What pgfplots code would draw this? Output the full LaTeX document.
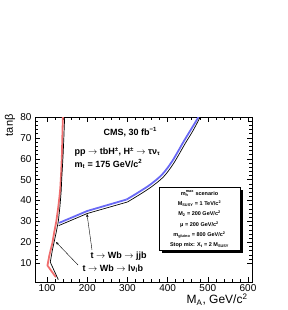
\documentclass[border=0pt]{standalone}
\usepackage{pgfplots}
\pgfplotsset{compat=1.18}
\usetikzlibrary{arrows.meta}
\usepackage{fontspec}
\setmainfont{Liberation Sans}
\begin{document}
\begin{tikzpicture}[x=1pt,y=1pt]
\useasboundingbox (0,0) rectangle (287,310);
\begin{axis}[
  at={(35pt,28pt)}, anchor=south west,
  scale only axis, width=217pt, height=165pt,
  xmin=70, xmax=610, ymin=1, ymax=80,
  xtick={100,200,...,600}, ytick={10,20,...,80},
  minor x tick num=4, minor y tick num=4,
  tick align=inside,
  major tick length=5pt, minor tick length=2.5pt,
  tick label style={font=\fontsize{10}{12}\selectfont},
  xticklabel style={yshift=1.5pt},
  /pgf/number format/assume math mode=true,
  axis line style={line width=0.6pt},
  tick style={black, line width=0.5pt},
]
% t -> Wb -> l nu b : red band and black line
\addplot[color={rgb,255:red,240;green,110;blue,110}, line width=1.8pt] coordinates {
(122,3.3) (101,8.9) (106,14) (113,19.4) (118,25) (123,30) (128,37) (131,42) (133,46) (135,53) (137,62) (138,70) (139.5,81)};
\addplot[black, line width=0.7pt] coordinates {
(128,2.1) (108,10.5) (113,16) (118,20.5) (123,25) (128,30) (132,37) (135,44) (137,52) (140,62) (142,71) (144,81)};
% t -> Wb -> jjb : blue band and black line
\addplot[color={rgb,255:red,105;green,105;blue,245}, line width=1.8pt] coordinates {
(130,29.3) (200,35) (298,40.5)};
\addplot[color={rgb,255:red,105;green,105;blue,245}, line width=1.8pt, smooth] coordinates {
(298,40.5) (328,44) (358,47.8) (387,52.6) (412,59) (441,68.6) (460,74.6) (480,81)};
\addplot[black, line width=0.7pt] coordinates {
(129,28) (200,33.8) (300,39.3)};
\addplot[black, line width=0.7pt, smooth] coordinates {
(300,39.3) (330,42.8) (360,46.6) (390,51.4) (415,57.8) (444,67.4) (463,73.4) (484,81)};
\end{axis}
% axis titles
\node[rotate=90, anchor=east, font=\fontsize{11}{13}\selectfont] at (10,199) {tanβ};
\node[anchor=east, font=\fontsize{12}{14}\selectfont] at (251,10.5) {M\textsubscript{A}, GeV/c\textsuperscript{2}};
% annotations
\node[anchor=west, font=\bfseries\fontsize{9}{11}\selectfont] at (100,178) {CMS, 30 fb\textsuperscript{−1}};
\node[anchor=west, font=\bfseries\fontsize{9}{11}\selectfont] at (71,158) {pp $\rightarrow$ tbH\textsuperscript{±}, H\textsuperscript{±} $\rightarrow$ τν\textsubscript{τ}};
\node[anchor=west, font=\bfseries\fontsize{9}{11}\selectfont] at (71,146) {m\textsubscript{t} = 175 GeV/c\textsuperscript{2}};
% box
\fill[black] (162,57) rectangle (243,120);
\draw[fill=white, line width=0.6pt] (159,60) rectangle (240,123);
\begin{scope}[every node/.style={font=\bfseries\fontsize{5.5}{6.5}\selectfont}]
\node at (199.5,116.5) {m\textsubscript{h}\kern-0.5em\textsuperscript{max} scenario};
\node at (199.5,106.2) {M\textsubscript{SUSY} = 1 TeV/c\textsuperscript{2}};
\node at (199.5,95.9) {M\textsubscript{2} = 200 GeV/c\textsuperscript{2}};
\node at (199.5,85.6) {μ = 200 GeV/c\textsuperscript{2}};
\node at (199.5,75.3) {m\textsubscript{gluino} = 800 GeV/c\textsuperscript{2}};
\node at (199.5,65) {Stop mix: X\textsubscript{t} = 2 M\textsubscript{SUSY}};
\end{scope}
\node[anchor=west, font=\bfseries\fontsize{9}{11}\selectfont] at (87,54) {t $\rightarrow$ Wb $\rightarrow$ jjb};
\node[anchor=west, font=\bfseries\fontsize{9}{11}\selectfont] at (79,41) {t $\rightarrow$ Wb $\rightarrow$ lν\textsubscript{l}b};
\draw[-{Stealth[length=3pt,width=2.5pt]}, line width=0.4pt] (92,60) -- (87,96);
\draw[-{Stealth[length=3pt,width=2.5pt]}, line width=0.4pt] (78,45) -- (56,68);
\end{tikzpicture}
\end{document}
